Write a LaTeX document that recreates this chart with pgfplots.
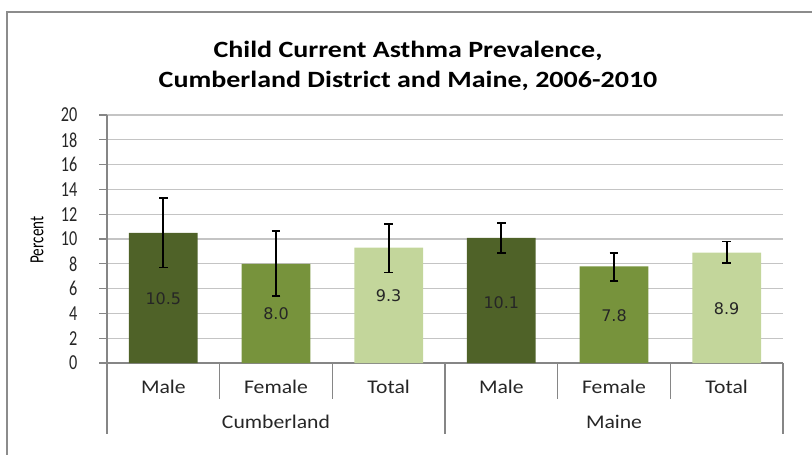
\documentclass[border=0pt]{standalone}
\usepackage{fontspec}
\setmainfont{Carlito}[FakeStretch=1.12]
\newfontfamily\titlefont{Carlito}[FakeStretch=1.2]
\newfontfamily\narrowfont{Carlito}[FakeStretch=0.76]
\newfontfamily\dejavu{DejaVu Sans}
\usepackage{pgfplots}
\pgfplotsset{compat=1.18}
\definecolor{cDark}{HTML}{4F6228}
\definecolor{cMid}{HTML}{77933C}
\definecolor{cLight}{HTML}{C3D69B}
\definecolor{axgray}{HTML}{868686}
\definecolor{gridgray}{HTML}{C4C4C4}
\definecolor{framegray}{HTML}{8C8C8C}
\begin{document}
\begin{tikzpicture}
\useasboundingbox (0,0) rectangle (609pt,-340.5pt);
\draw[framegray, line width=1.5pt] (5.25pt,-360pt) -- (5.25pt,-9pt) -- (640pt,-9pt);
\node[font=\titlefont\bfseries\fontsize{17.5}{21}\selectfont, anchor=base] at (306pt,-43pt) {Child Current Asthma Prevalence,};
\node[font=\titlefont\bfseries\fontsize{17.5}{21}\selectfont, anchor=base] at (306pt,-65.5pt) {Cumberland District and Maine, 2006-2010};
\node[rotate=90, font=\narrowfont\fontsize{15}{18}\selectfont] at (27.75pt,-180pt) {Percent};
\begin{axis}[
  at={(80.25pt,-272.25pt)}, anchor=south west,
  scale only axis, width=507pt, height=186pt,
  clip=false,
  xmin=-0.5, xmax=5.5, ymin=0, ymax=20,
  axis x line=bottom, axis y line=left,
  axis line style={draw=axgray, line width=0.8pt, -},
  xtick={0,1,2,3,4,5},
  xticklabels={Male,Female,Total,Male,Female,Total},
  xtick style={draw=none},
  ytick={0,2,...,20},
  yticklabels={0,2,4,6,8,10,12,14,16,18,20},
  ytick style={draw=axgray, line width=0.8pt},
  tick align=outside, major tick length=6pt,
  ymajorgrids, grid style={draw=gridgray, line width=0.8pt},
  xticklabel style={font=\fontsize{14.5}{17}\selectfont, anchor=base, yshift=-17pt, text=black!85},
  yticklabel style={font=\narrowfont\fontsize{16}{19}\selectfont, anchor=east, inner sep=0pt, xshift=-16pt, text=black!85},
]
\addplot[ybar, bar width=0.61, bar shift=0pt, fill=cDark, draw=none,
  error bars/.cd, y dir=both, y explicit,
  error bar style={black, line width=1.4pt},
  error mark options={black, line width=1.4pt, mark size=3.2pt, rotate=90}]
  coordinates {(0,10.5) += (0,2.8) -= (0,2.8) (3,10.1) += (0,1.2) -= (0,1.2)};
\addplot[ybar, bar width=0.61, bar shift=0pt, fill=cMid, draw=none,
  error bars/.cd, y dir=both, y explicit,
  error bar style={black, line width=1.4pt},
  error mark options={black, line width=1.4pt, mark size=3.2pt, rotate=90}]
  coordinates {(1,8.0) += (0,2.65) -= (0,2.6) (4,7.8) += (0,1.1) -= (0,1.2)};
\addplot[ybar, bar width=0.61, bar shift=0pt, fill=cLight, draw=none,
  error bars/.cd, y dir=both, y explicit,
  error bar style={black, line width=1.4pt},
  error mark options={black, line width=1.4pt, mark size=3.2pt, rotate=90}]
  coordinates {(2,9.3) += (0,1.9) -= (0,2.0) (5,8.9) += (0,0.9) -= (0,0.8)};
\addplot[draw=none, mark=none, nodes near coords, point meta=explicit symbolic,
  nodes near coords style={anchor=center, inner sep=0pt, font=\dejavu\fontsize{12}{14}\selectfont, text=black!85}]
  coordinates {(0,5.2)[10.5] (1,3.95)[8.0] (2,5.4)[9.3] (3,4.9)[10.1] (4,3.8)[7.8] (5,4.35)[8.9]};
\draw[axgray, line width=0.8pt] (axis cs:0.5,0) -- ++(0pt,-27pt);
\draw[axgray, line width=0.8pt] (axis cs:1.5,0) -- ++(0pt,-27pt);
\draw[axgray, line width=0.8pt] (axis cs:3.5,0) -- ++(0pt,-27pt);
\draw[axgray, line width=0.8pt] (axis cs:4.5,0) -- ++(0pt,-27pt);
\draw[axgray, line width=0.8pt] (axis cs:-0.5,0) -- ++(0pt,-53.25pt);
\draw[axgray, line width=0.8pt] (axis cs:2.5,0) -- ++(0pt,-53.25pt);
\draw[axgray, line width=0.8pt] (axis cs:5.5,0) -- ++(0pt,-53.25pt);
\node[anchor=base, font=\fontsize{14.5}{17}\selectfont, text=black!85, yshift=-48.75pt] at (axis cs:1,0) {Cumberland};
\node[anchor=base, font=\fontsize{14.5}{17}\selectfont, text=black!85, yshift=-48.75pt] at (axis cs:4,0) {Maine};
\end{axis}
\end{tikzpicture}
\end{document}
